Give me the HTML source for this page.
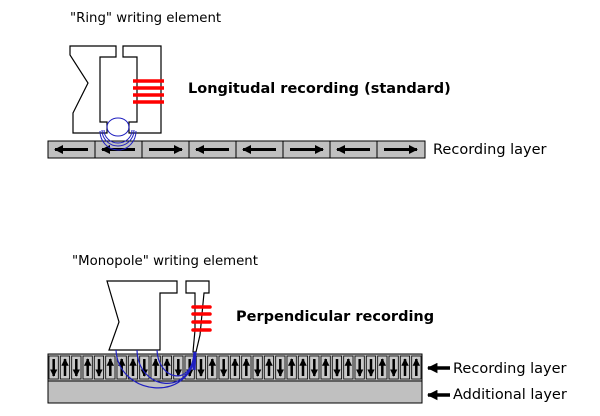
<!DOCTYPE html>
<html><head><meta charset="utf-8"><style>
html,body{margin:0;padding:0;background:#fff;}
svg{display:block;font-family:"DejaVu Sans","Liberation Sans",sans-serif;}
</style></head><body>
<svg width="600" height="416" viewBox="0 0 600 416" xmlns="http://www.w3.org/2000/svg">
<defs>
<marker id="ah" viewBox="0 0 10 10" refX="9" refY="5" markerWidth="3" markerHeight="3" orient="auto"><path d="M0,0 L10,5 L0,10z" fill="#000"/></marker>
</defs>
<text x="70" y="22" font-size="13.3">"Ring" writing element</text>
<path d="M70,46 L116,46 L116,57 L100,57 L100,122 L107,122 L107,133 L73,133 L73,113 L88,83 L70,55 Z" fill="#fff" stroke="#000" stroke-width="1.2"/>
<path d="M123,46 L161,46 L161,133 L129,133 L129,122 L137,122 L137,57 L123,57 Z" fill="#fff" stroke="#000" stroke-width="1.2"/>
<g stroke="#f00" stroke-width="3.5"><line x1="133" y1="81" x2="164" y2="81"/><line x1="133" y1="88" x2="164" y2="88"/><line x1="133" y1="95" x2="164" y2="95"/><line x1="133" y1="102" x2="164" y2="102"/></g>
<text x="188" y="93" font-size="14.5" font-weight="bold">Longitudal recording (standard)</text>
<rect x="48" y="141" width="377" height="17" fill="#c0c0c0" stroke="#000" stroke-width="1"/>
<g stroke="#000" stroke-width="1">
<line x1="95" y1="141" x2="95" y2="158"/><line x1="142" y1="141" x2="142" y2="158"/><line x1="189" y1="141" x2="189" y2="158"/><line x1="236" y1="141" x2="236" y2="158"/><line x1="283" y1="141" x2="283" y2="158"/><line x1="330" y1="141" x2="330" y2="158"/><line x1="377" y1="141" x2="377" y2="158"/>
</g>
<g stroke="#000" stroke-width="3" marker-end="url(#ah)">
<line x1="88" y1="149.5" x2="55" y2="149.5"/><line x1="135" y1="149.5" x2="102" y2="149.5"/><line x1="149" y1="149.5" x2="182" y2="149.5"/><line x1="229" y1="149.5" x2="196" y2="149.5"/><line x1="276" y1="149.5" x2="243" y2="149.5"/><line x1="290" y1="149.5" x2="323" y2="149.5"/><line x1="370" y1="149.5" x2="337" y2="149.5"/><line x1="384" y1="149.5" x2="417" y2="149.5"/>
</g>
<g fill="none" stroke="#2020c0" stroke-width="1">
<ellipse cx="118" cy="127" rx="11" ry="9"/>
<path d="M104,130 A14,13 0 0 0 132,130"/><path d="M102,130 A16,16 0 0 0 134,130"/><path d="M100,131 A18,19 0 0 0 136,131"/>
</g>
<text x="433" y="154" font-size="14.5">Recording layer</text>

<text x="72" y="265" font-size="13.3">"Monopole" writing element</text>
<rect x="48" y="354" width="374" height="27" fill="#c0c0c0" stroke="#000" stroke-width="1"/>
<rect x="48" y="381" width="374" height="22" fill="#c0c0c0" stroke="#000" stroke-width="1"/>
<g fill="#c8c8c8" stroke="#000" stroke-width="0.8">
<rect x="49" y="356" width="9.3" height="23"/><rect x="60.3" y="356" width="9.3" height="23"/><rect x="71.7" y="356" width="9.3" height="23"/><rect x="83" y="356" width="9.3" height="23"/><rect x="94.3" y="356" width="9.3" height="23"/><rect x="105.7" y="356" width="9.3" height="23"/><rect x="117" y="356" width="9.3" height="23"/><rect x="128.3" y="356" width="9.3" height="23"/><rect x="139.7" y="356" width="9.3" height="23"/><rect x="151" y="356" width="9.3" height="23"/><rect x="162.3" y="356" width="9.3" height="23"/><rect x="173.7" y="356" width="9.3" height="23"/><rect x="185" y="356" width="9.3" height="23"/><rect x="196.3" y="356" width="9.3" height="23"/><rect x="207.7" y="356" width="9.3" height="23"/><rect x="219" y="356" width="9.3" height="23"/><rect x="230.3" y="356" width="9.3" height="23"/><rect x="241.7" y="356" width="9.3" height="23"/><rect x="253" y="356" width="9.3" height="23"/><rect x="264.3" y="356" width="9.3" height="23"/><rect x="275.7" y="356" width="9.3" height="23"/><rect x="287" y="356" width="9.3" height="23"/><rect x="298.3" y="356" width="9.3" height="23"/><rect x="309.7" y="356" width="9.3" height="23"/><rect x="321" y="356" width="9.3" height="23"/><rect x="332.3" y="356" width="9.3" height="23"/><rect x="343.7" y="356" width="9.3" height="23"/><rect x="355" y="356" width="9.3" height="23"/><rect x="366.3" y="356" width="9.3" height="23"/><rect x="377.7" y="356" width="9.3" height="23"/><rect x="389" y="356" width="9.3" height="23"/><rect x="400.3" y="356" width="9.3" height="23"/><rect x="411.7" y="356" width="9.3" height="23"/>
</g>
<g stroke="#000" stroke-width="2.5" marker-end="url(#ah)">
<line x1="53.7" y1="359" x2="53.7" y2="376"/><line x1="65" y1="376" x2="65" y2="359"/><line x1="76.3" y1="359" x2="76.3" y2="376"/><line x1="87.7" y1="376" x2="87.7" y2="359"/><line x1="99" y1="359" x2="99" y2="376"/><line x1="110.3" y1="376" x2="110.3" y2="359"/><line x1="121.7" y1="376" x2="121.7" y2="359"/><line x1="133" y1="376" x2="133" y2="359"/><line x1="144.3" y1="359" x2="144.3" y2="376"/><line x1="155.7" y1="376" x2="155.7" y2="359"/><line x1="167" y1="376" x2="167" y2="359"/><line x1="178.3" y1="359" x2="178.3" y2="376"/><line x1="189.7" y1="359" x2="189.7" y2="376"/><line x1="201" y1="359" x2="201" y2="376"/><line x1="212.3" y1="376" x2="212.3" y2="359"/><line x1="223.7" y1="359" x2="223.7" y2="376"/><line x1="235" y1="376" x2="235" y2="359"/><line x1="246.3" y1="376" x2="246.3" y2="359"/><line x1="257.7" y1="359" x2="257.7" y2="376"/><line x1="269" y1="376" x2="269" y2="359"/><line x1="280.3" y1="359" x2="280.3" y2="376"/><line x1="291.7" y1="376" x2="291.7" y2="359"/><line x1="303" y1="376" x2="303" y2="359"/><line x1="314.3" y1="359" x2="314.3" y2="376"/><line x1="325.7" y1="376" x2="325.7" y2="359"/><line x1="337" y1="359" x2="337" y2="376"/><line x1="348.3" y1="376" x2="348.3" y2="359"/><line x1="359.7" y1="359" x2="359.7" y2="376"/><line x1="371" y1="359" x2="371" y2="376"/><line x1="382.3" y1="376" x2="382.3" y2="359"/><line x1="393.7" y1="359" x2="393.7" y2="376"/><line x1="405" y1="376" x2="405" y2="359"/><line x1="416.3" y1="376" x2="416.3" y2="359"/>
</g>
<path d="M107,281 L177,281 L177,293 L160,293 L160,350 L109,350 L119,322 Z" fill="#fff" stroke="#000" stroke-width="1.2"/>
<path d="M186,281 L209,281 L209,293 L204,293 L200,335 L196,352 L193,352 L195,330 L195,293 L186,293 Z" fill="#fff" stroke="#000" stroke-width="1.2"/>
<g stroke="#f00" stroke-width="3.5" stroke-linecap="round"><line x1="193" y1="307" x2="210" y2="307"/><line x1="193" y1="314" x2="210" y2="314"/><line x1="193" y1="322" x2="210" y2="322"/><line x1="193" y1="330" x2="210" y2="330"/></g>
<g fill="none" stroke="#2020c0" stroke-width="1.2">
<path d="M116,350 C118,395 190,405 196,352"/>
<path d="M137,350 C138,390 190,398 195,352"/>
<path d="M157,350 C158,380 192,388 194,352"/>
<line x1="195" y1="352" x2="194" y2="370" stroke-width="3"/>
</g>
<text x="236" y="321" font-size="14.5" font-weight="bold">Perpendicular recording</text>
<g stroke="#000" stroke-width="3.5" marker-end="url(#ah)">
<line x1="450" y1="368" x2="428" y2="368"/><line x1="450" y1="395" x2="428" y2="395"/>
</g>
<text x="453" y="373" font-size="14.5">Recording layer</text>
<text x="453" y="399" font-size="14.5">Additional layer</text>
</svg>
</body></html>
